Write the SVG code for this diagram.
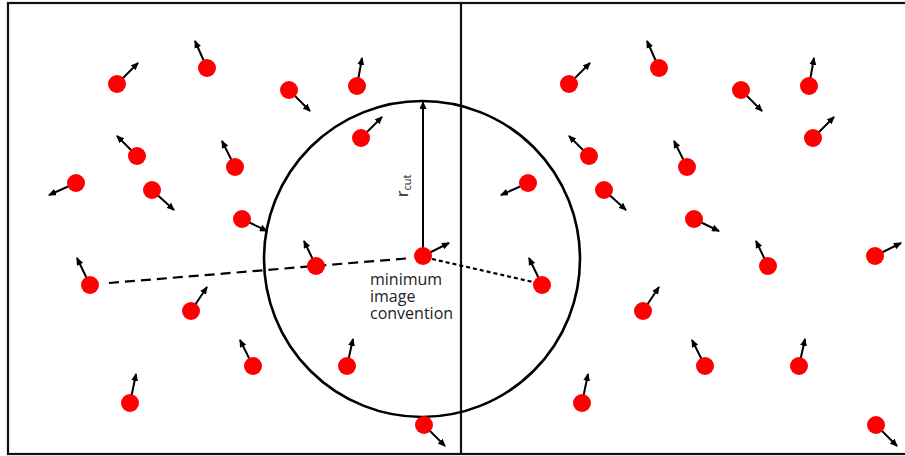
<svg xmlns="http://www.w3.org/2000/svg" width="905" height="456" viewBox="0 0 905 456">
<defs>
<marker id="ah" viewBox="0 0 8 7" refX="7" refY="3.5" markerUnits="userSpaceOnUse" markerWidth="8" markerHeight="7" orient="auto">
<path d="M0,0 L8,3.5 L0,7 z" fill="#000"/>
</marker>
<style>
.box{fill:none;stroke:#111;stroke-width:2.2}
.cut{fill:none;stroke:#000;stroke-width:2.6}
.v{stroke:#000;stroke-width:2;marker-end:url(#ah)}
.p{fill:#ff0000}
.lbl{font-family:"Open Sans","DejaVu Sans",sans-serif;font-size:16px;fill:#222}
</style>
</defs>
<rect width="905" height="456" fill="#fff"/>
<g id="boxes">
<rect class="box" x="8" y="3" width="905" height="451"/>
<line class="box" x1="461" y1="3" x2="461" y2="454"/>
</g>
<g id="cutoff">
<circle class="cut" cx="422" cy="259" r="158"/>
</g>
<g id="connectors">
<line x1="109" y1="283" x2="412" y2="258" stroke="#000" stroke-width="2.2" stroke-dasharray="10,6"/>
<line x1="432" y1="259" x2="533" y2="282" stroke="#000" stroke-width="2.2" stroke-dasharray="4,3"/>
<line class="v" x1="423" y1="256" x2="423" y2="102"/>
</g>
<g id="labels">
<text class="lbl" transform="translate(408,197) rotate(-90)">r<tspan font-size="11" dy="3">cut</tspan></text>
<text class="lbl" x="370" y="285">minimum</text>
<text class="lbl" x="370" y="302">image</text>
<text class="lbl" x="370" y="319">convention</text>
</g>
<g id="p1"><line class="v" x1="117" y1="84" x2="138" y2="63"/><circle class="p" cx="117" cy="84" r="9"/></g>
<g id="p2"><line class="v" x1="207" y1="68" x2="195" y2="41"/><circle class="p" cx="207" cy="68" r="9"/></g>
<g id="p3"><line class="v" x1="289" y1="90" x2="310" y2="111"/><circle class="p" cx="289" cy="90" r="9"/></g>
<g id="p4"><line class="v" x1="357" y1="86" x2="362" y2="58"/><circle class="p" cx="357" cy="86" r="9"/></g>
<g id="p5"><line class="v" x1="137" y1="156" x2="117" y2="136"/><circle class="p" cx="137" cy="156" r="9"/></g>
<g id="p6"><line class="v" x1="235" y1="167" x2="222" y2="141"/><circle class="p" cx="235" cy="167" r="9"/></g>
<g id="p7"><line class="v" x1="361" y1="138" x2="382" y2="117"/><circle class="p" cx="361" cy="138" r="9"/></g>
<g id="p8"><line class="v" x1="76" y1="183" x2="49" y2="195"/><circle class="p" cx="76" cy="183" r="9"/></g>
<g id="p9"><line class="v" x1="152" y1="190" x2="174" y2="210"/><circle class="p" cx="152" cy="190" r="9"/></g>
<g id="p10"><line class="v" x1="242" y1="219" x2="267" y2="231"/><circle class="p" cx="242" cy="219" r="9"/></g>
<g id="p11"><line class="v" x1="90" y1="285" x2="77" y2="258"/><circle class="p" cx="90" cy="285" r="9"/></g>
<g id="p12"><line class="v" x1="191" y1="311" x2="207" y2="287"/><circle class="p" cx="191" cy="311" r="9"/></g>
<g id="p13"><line class="v" x1="253" y1="366" x2="240" y2="340"/><circle class="p" cx="253" cy="366" r="9"/></g>
<g id="p14"><line class="v" x1="130" y1="403" x2="136" y2="374"/><circle class="p" cx="130" cy="403" r="9"/></g>
<g id="p15"><line class="v" x1="316" y1="266" x2="304" y2="241"/><circle class="p" cx="316" cy="266" r="9"/></g>
<g id="p16"><line class="v" x1="423" y1="256" x2="449" y2="243"/><circle class="p" cx="423" cy="256" r="9"/></g>
<g id="p17"><line class="v" x1="347" y1="366" x2="353" y2="339"/><circle class="p" cx="347" cy="366" r="9"/></g>
<g id="p18"><line class="v" x1="424" y1="425" x2="445" y2="446"/><circle class="p" cx="424" cy="425" r="9"/></g>
<g id="q1"><line class="v" x1="569" y1="84" x2="590" y2="63"/><circle class="p" cx="569" cy="84" r="9"/></g>
<g id="q2"><line class="v" x1="659" y1="68" x2="647" y2="41"/><circle class="p" cx="659" cy="68" r="9"/></g>
<g id="q3"><line class="v" x1="741" y1="90" x2="762" y2="111"/><circle class="p" cx="741" cy="90" r="9"/></g>
<g id="q4"><line class="v" x1="809" y1="86" x2="814" y2="58"/><circle class="p" cx="809" cy="86" r="9"/></g>
<g id="q5"><line class="v" x1="589" y1="156" x2="569" y2="136"/><circle class="p" cx="589" cy="156" r="9"/></g>
<g id="q6"><line class="v" x1="687" y1="167" x2="674" y2="141"/><circle class="p" cx="687" cy="167" r="9"/></g>
<g id="q7"><line class="v" x1="813" y1="138" x2="834" y2="117"/><circle class="p" cx="813" cy="138" r="9"/></g>
<g id="q8"><line class="v" x1="528" y1="183" x2="501" y2="195"/><circle class="p" cx="528" cy="183" r="9"/></g>
<g id="q9"><line class="v" x1="604" y1="190" x2="626" y2="210"/><circle class="p" cx="604" cy="190" r="9"/></g>
<g id="q10"><line class="v" x1="694" y1="219" x2="719" y2="231"/><circle class="p" cx="694" cy="219" r="9"/></g>
<g id="q11"><line class="v" x1="542" y1="285" x2="529" y2="258"/><circle class="p" cx="542" cy="285" r="9"/></g>
<g id="q12"><line class="v" x1="643" y1="311" x2="659" y2="287"/><circle class="p" cx="643" cy="311" r="9"/></g>
<g id="q13"><line class="v" x1="705" y1="366" x2="692" y2="340"/><circle class="p" cx="705" cy="366" r="9"/></g>
<g id="q14"><line class="v" x1="582" y1="403" x2="588" y2="374"/><circle class="p" cx="582" cy="403" r="9"/></g>
<g id="q15"><line class="v" x1="768" y1="266" x2="756" y2="241"/><circle class="p" cx="768" cy="266" r="9"/></g>
<g id="q16"><line class="v" x1="875" y1="256" x2="901" y2="243"/><circle class="p" cx="875" cy="256" r="9"/></g>
<g id="q17"><line class="v" x1="799" y1="366" x2="805" y2="339"/><circle class="p" cx="799" cy="366" r="9"/></g>
<g id="q18"><line class="v" x1="876" y1="425" x2="897" y2="446"/><circle class="p" cx="876" cy="425" r="9"/></g>
</svg>
